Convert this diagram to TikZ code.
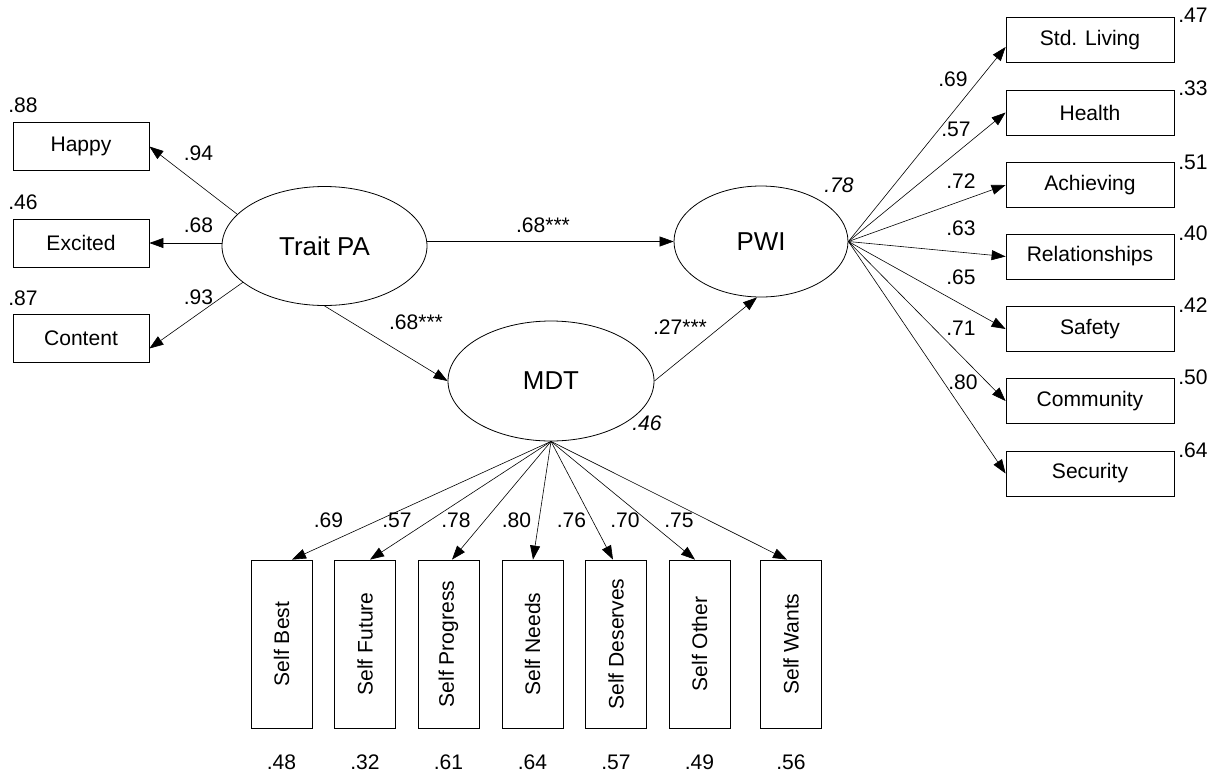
\documentclass[tikz,border=0pt]{standalone}
\usepackage{fontspec}
\setmainfont{Liberation Sans}
\usepackage{graphicx}
\usetikzlibrary{shapes.geometric,arrows.meta}
\newlength\pxu \setlength\pxu{0.75pt}
\tikzset{
  txt/.style={font=\fontsize{15.8}{18}\selectfont},
  lab/.style={txt, inner sep=0pt},
  ital/.style={lab, font=\fontsize{15.8}{18}\selectfont\itshape},
  latent/.style={ellipse, draw, line width=0.6pt, inner sep=0pt, font=\fontsize{19.4}{22}\selectfont},
  lbox/.style={draw, line width=0.6pt, inner sep=0pt, minimum width=136\pxu, minimum height=48\pxu, txt},
  rbox/.style={draw, line width=0.6pt, inner sep=0pt, minimum width=168\pxu, minimum height=45\pxu, txt},
  bbox/.style={draw, line width=0.6pt, inner sep=0pt, minimum width=61\pxu, minimum height=168\pxu, txt},
  arr/.style={line width=0.45pt, -{Triangle[length=10.5pt,width=7.5pt]}}
}
\begin{document}
\begin{tikzpicture}[x=0.75pt,y=-0.75pt]
\useasboundingbox (0,0) rectangle (1222,776);

% latent variables
\node[latent, minimum width=205\pxu, minimum height=119\pxu] (tpa) at (324.5,246) {Trait PA};
\node[latent, minimum width=174\pxu, minimum height=111\pxu] (pwi) at (761,241.5) {PWI};
\node[latent, minimum width=206\pxu, minimum height=120\pxu] (mdt) at (551,381) {MDT};

% left indicators
\node[lbox] (happy) at (81,146.5) {Happy};
\node[lbox] (excited) at (81,243) {Excited};
\node[lbox] (content) at (81,338.5) {Content};
\node[lab, anchor=west] (r88) at (8,105) {.88};
\node[lab, anchor=west] (r46l) at (8,202) {.46};
\node[lab, anchor=west] (r87) at (8,298) {.87};

% right indicators
\node[rbox] (std) at (1090,40) {Std. Living};
\node[rbox] (hea) at (1090,112.5) {Health};
\node[rbox] (ach) at (1090,185) {Achieving};
\node[rbox] (rel) at (1090,256.5) {Relationships};
\node[rbox] (saf) at (1090,329) {Safety};
\node[rbox] (com) at (1090,401) {Community};
\node[rbox] (sec) at (1090,473.5) {Security};
\node[lab, anchor=west] (r47) at (1178,15) {.47};
\node[lab, anchor=west] (r33) at (1178,88) {.33};
\node[lab, anchor=west] (r51) at (1178,162) {.51};
\node[lab, anchor=west] (r40) at (1178,233) {.40};
\node[lab, anchor=west] (r42) at (1178,305) {.42};
\node[lab, anchor=west] (r50) at (1178,377) {.50};
\node[lab, anchor=west] (r64r) at (1178,450) {.64};

% bottom indicators
\node[bbox] (sb) at (281.5,644) {\rotatebox{90}{Self Best}};
\node[bbox] (sf) at (365,644) {\rotatebox{90}{Self Future}};
\node[bbox] (sp) at (448.5,644) {\rotatebox{90}{Self Progress}};
\node[bbox] (sn) at (532.5,644) {\rotatebox{90}{Self Needs}};
\node[bbox] (sd) at (616,644) {\rotatebox{90}{Self Deserves}};
\node[bbox] (so) at (699.5,644) {\rotatebox{90}{Self Other}};
\node[bbox] (sw) at (791,644) {\rotatebox{90}{Self Wants}};
\node[lab] (b48) at (281.5,762) {.48};
\node[lab] (b32) at (365,762) {.32};
\node[lab] (b61) at (448.5,762) {.61};
\node[lab] (b64) at (532.5,762) {.64};
\node[lab] (b57) at (616,762) {.57};
\node[lab] (b49) at (699.5,762) {.49};
\node[lab] (b56) at (791,762) {.56};

% structural paths
\draw[arr] (tpa.east |- pwi.west) -- (pwi.west);
\draw[arr] (tpa.south) -- (mdt.west);
\draw[arr] (mdt.east) -- ([xshift=-4\pxu]pwi.south);
\node[lab] (p1) at (543,225) {.68***};
\node[lab] (p2) at (416,322) {.68***};
\node[lab] (p3) at (680,327) {.27***};
\node[ital] (r2pwi) at (839,185) {.78};
\node[ital] (r2mdt) at (647,423) {.46};

% left loadings
\draw[arr] (tpa.160) -- (happy.east);
\draw[arr] (tpa.west |- excited.east) -- (excited.east);
\draw[arr] (tpa.204) -- ([yshift=-10\pxu]content.east);
\node[lab] (l94) at (198.5,153) {.94};
\node[lab] (l68) at (198.5,225) {.68};
\node[lab] (l93) at (198.5,297) {.93};

% right loadings
\draw[arr] (pwi.east) -- ([yshift=-7\pxu]std.west);
\draw[arr] (pwi.east) -- (hea.west);
\draw[arr] (pwi.east) -- (ach.west);
\draw[arr] (pwi.east) -- (rel.west);
\draw[arr] (pwi.east) -- (saf.west);
\draw[arr] (pwi.east) -- (com.west);
\draw[arr] (pwi.east) -- (sec.west);
\node[lab] (k69) at (953,79) {.69};
\node[lab] (k57) at (956,129) {.57};
\node[lab] (k72) at (961,181) {.72};
\node[lab] (k63) at (961,228) {.63};
\node[lab] (k65) at (961,277) {.65};
\node[lab] (k71) at (961,328) {.71};
\node[lab] (k80) at (963,382) {.80};

% bottom loadings
\draw[arr] (mdt.south) -- ([xshift=10.5\pxu]sb.north);
\draw[arr] (mdt.south) -- ([xshift=5\pxu]sf.north);
\draw[arr] (mdt.south) -- ([xshift=3.5\pxu]sp.north);
\draw[arr] (mdt.south) -- ([xshift=0.5\pxu]sn.north);
\draw[arr] (mdt.south) -- ([xshift=-3\pxu]sd.north);
\draw[arr] (mdt.south) -- ([xshift=-4.5\pxu]so.north);
\draw[arr] (mdt.south) -- ([xshift=-4\pxu]sw.north);
\node[lab] (m69) at (328.5,520) {.69};
\node[lab] (m57) at (397,520) {.57};
\node[lab] (m78) at (456,520) {.78};
\node[lab] (m80) at (516.5,520) {.80};
\node[lab] (m76) at (571.5,520) {.76};
\node[lab] (m70) at (625,520) {.70};
\node[lab] (m75) at (679,520) {.75};
\end{tikzpicture}
\end{document}
